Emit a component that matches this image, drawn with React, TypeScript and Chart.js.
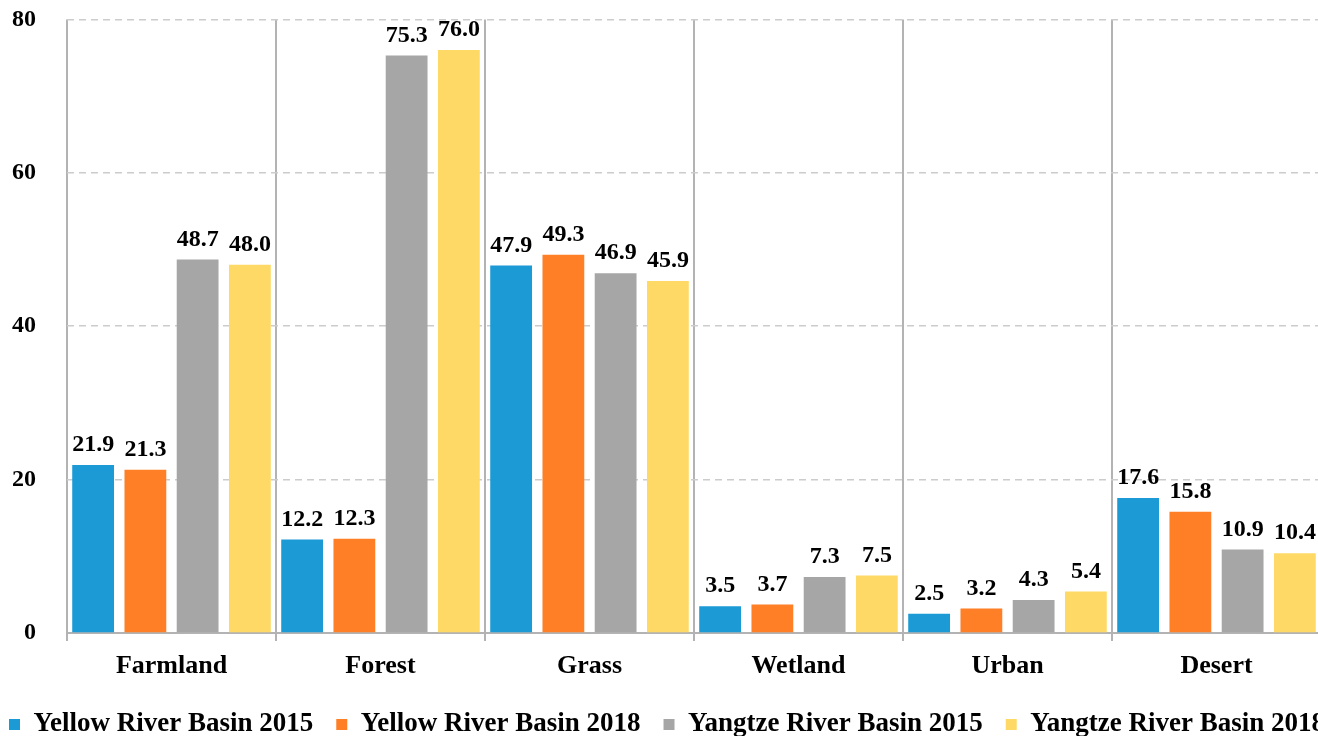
import React, { useEffect, useRef } from "react";
import { Chart, registerables } from "chart.js";

Chart.register(...registerables);

const categories = ["Farmland", "Forest", "Grass", "Wetland", "Urban", "Desert"];
const seriesNames = [
  "Yellow River Basin 2015",
  "Yellow River Basin 2018",
  "Yangtze River Basin 2015",
  "Yangtze River Basin 2018",
];
const yellow2015 = [21.9, 12.2, 47.9, 3.5, 2.5, 17.6];
const yellow2018 = [21.3, 12.3, 49.3, 3.7, 3.2, 15.8];
const yangtze2015 = [48.7, 75.3, 46.9, 7.3, 4.3, 10.9];
const yangtze2018 = [48.0, 76.0, 45.9, 7.5, 5.4, 10.4];
const colors = ["#1b9ad6", "#fe7f26", "#a6a6a6", "#ffd966"];

const FONT = "'Liberation Serif', 'Times New Roman', serif";

// target layout in page pixels
const PLOT_TOP = 19;
const PLOT_BOTTOM = 633;
const PLOT_LEFT = 67;
const PLOT_RIGHT = 1321;
const CANVAS_W = 1400;
const SHIFT_X = 33; // canvas starts at page x = -SHIFT_X

const labelPlugin = {
  id: "barValueLabels",
  afterDatasetsDraw(chart: any) {
    const ctx = chart.ctx;
    ctx.save();
    ctx.font = `bold 24px ${FONT}`;
    ctx.fillStyle = "#000";
    ctx.textAlign = "center";
    ctx.textBaseline = "bottom";
    chart.data.datasets.forEach((ds: any, i: number) => {
      const meta = chart.getDatasetMeta(i);
      meta.data.forEach((bar: any, j: number) => {
        const v = ds.data[j] as number;
        ctx.fillText(v.toFixed(1), bar.x, bar.y - 8);
      });
    });
    ctx.restore();
  },
};

function makeConfig(): any {
  const all = [yellow2015, yellow2018, yangtze2015, yangtze2018];
  return {
    type: "bar",
    data: {
      labels: categories,
      datasets: all.map((d, i) => ({
        label: seriesNames[i],
        data: d,
        backgroundColor: colors[i],
        borderWidth: 0,
        barPercentage: 0.8,
        categoryPercentage: 1.0,
        yAxisID: "y",
      })),
    },
    options: {
      animation: false,
      responsive: false,
      maintainAspectRatio: false,
      devicePixelRatio: 1,
      layout: { padding: { left: 0, right: 0, top: 0, bottom: 0 } },
      plugins: {
        legend: {
          position: "bottom",
          labels: {
            boxWidth: 11,
            boxHeight: 11,
            padding: 23,
            color: "#000",
            font: { family: FONT, size: 27, weight: "bold" },
          },
        },
        tooltip: { enabled: false },
      },
      scales: {
        x: {
          grid: {
            offset: true,
            color: "#b3b3b3",
            lineWidth: 2,
            tickLength: 8,
          },
          border: { color: "#b3b3b3", width: 2 },
          ticks: {
            color: "#000",
            padding: 10,
            font: { family: FONT, size: 26, weight: "bold" },
          },
          afterFit: (s: any) => {
            s.height = 55;
          },
        },
        y: {
          position: "left",
          min: 0,
          max: 80,
          ticks: {
            stepSize: 20,
            color: "#000",
            padding: 31,
            font: { family: FONT, size: 24, weight: "bold" },
          },
          grid: { color: "#cccccc", lineWidth: 1.5, drawTicks: false },
          border: { display: false, dash: [7, 5] },
          afterFit: (s: any) => {
            s.width = PLOT_LEFT + SHIFT_X;
          },
        },
        yRight: {
          position: "right",
          display: true,
          grid: { display: false },
          border: { display: false },
          ticks: { display: false },
          afterFit: (s: any) => {
            s.width = CANVAS_W - SHIFT_X - PLOT_RIGHT;
          },
        },
      },
    },
    plugins: [labelPlugin],
  };
}

export default function App() {
  const ref = useRef<HTMLCanvasElement>(null);
  useEffect(() => {
    const canvas = ref.current;
    if (!canvas) return;
    canvas.width = CANVAS_W;
    canvas.height = 760;
    let chart = new Chart(canvas, makeConfig());
    const ca = chart.chartArea;
    const top = ca.top;
    const bottomGap = canvas.height - ca.bottom;
    const newH = Math.round(top + (PLOT_BOTTOM - PLOT_TOP) + bottomGap);
    chart.destroy();
    canvas.width = CANVAS_W;
    canvas.height = newH;
    canvas.style.width = CANVAS_W + "px";
    canvas.style.height = newH + "px";
    chart = new Chart(canvas, makeConfig());
    canvas.style.marginTop = PLOT_TOP - chart.chartArea.top + "px";
    canvas.style.marginLeft = -SHIFT_X + "px";
    return () => chart.destroy();
  }, []);
  return (
    <div
      style={{
        position: "absolute",
        left: 0,
        top: 0,
        width: 1318,
        height: 736,
        overflow: "hidden",
        background: "#fff",
      }}
    >
      <canvas ref={ref} style={{ display: "block" }} />
    </div>
  );
}
